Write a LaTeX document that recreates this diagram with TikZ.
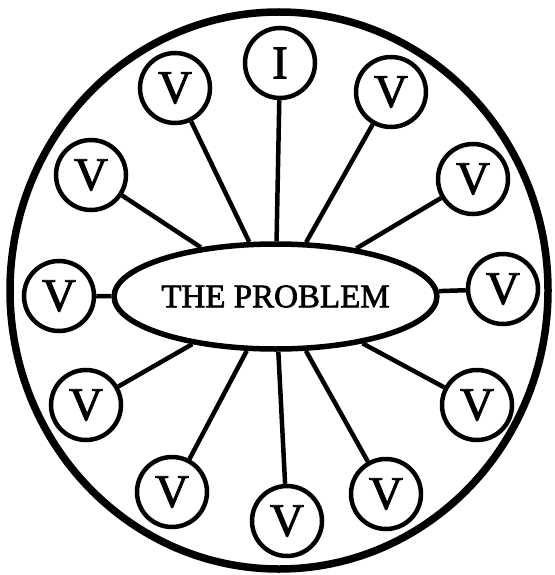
\documentclass[tikz,border=0pt]{standalone}
\usepackage{fontspec}
\setmainfont{Liberation Serif}
\newfontfamily\heavyserif[FakeBold=2]{Liberation Serif}
\usetikzlibrary{shapes.geometric}
\tikzset{
  frame/.style={ellipse, draw, line width=7.5pt, inner sep=0pt, minimum width=538pt, minimum height=557pt},
  problem/.style={ellipse, draw, line width=5.5pt, inner sep=0pt, minimum width=241pt, minimum height=105pt, fill=white,
    font=\heavyserif\fontsize{33pt}{33pt}\selectfont},
  vbub/.style={circle, draw, line width=4.5pt, inner sep=0pt, minimum size=70pt, fill=white,
    font=\heavyserif\fontsize{47pt}{47pt}\selectfont},
  ray/.style={line width=4.5pt}
}
\begin{document}
\begin{tikzpicture}[x=1pt,y=-1pt]
\useasboundingbox[fill=white] (0,0) rectangle (554,575);
\node[frame] (frame) at (279,290.5) {};
\node[problem] (p) at (275.5,296.5) {THE PROBLEM};
\node[vbub] (i)   at (280,63)  {I};
\node[vbub] (v1)  at (175,88)  {V};
\node[vbub] (v2)  at (391,92)  {V};
\node[vbub] (v3)  at (91,175)  {V};
\node[vbub] (v4)  at (473,179) {V};
\node[vbub] (v5)  at (59,296)  {V};
\node[vbub] (v6)  at (503,289) {V};
\node[vbub] (v7)  at (86,405)  {V};
\node[vbub] (v8)  at (477,405) {V};
\node[vbub] (v9)  at (172,492) {V};
\node[vbub] (v10) at (287,521) {V};
\node[vbub] (v11) at (386,494) {V};
\foreach \n in {i,v1,v2,v3,v4,v5,v6,v7,v8,v9,v10,v11}
  \draw[ray] (p) -- (\n);
\end{tikzpicture}
\end{document}
